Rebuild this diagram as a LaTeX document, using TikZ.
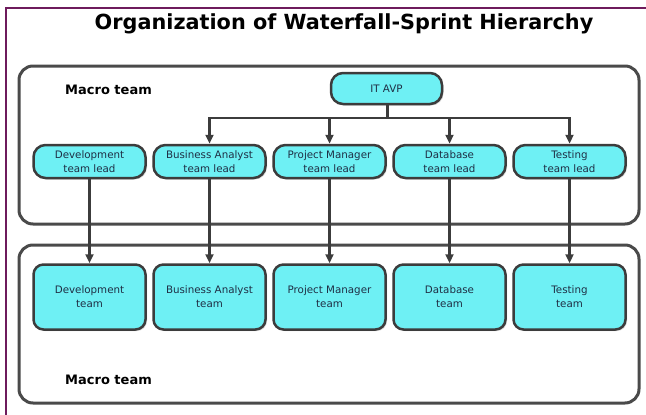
\documentclass[tikz,border=0pt]{standalone}
\usepackage{fontspec}
\setmainfont{DejaVu Sans}
\usepackage{xcolor}
\usepackage{tikz}
\usetikzlibrary{arrows.meta}
\usetikzlibrary{shapes,shadows,positioning}
\definecolor{nodeCyan}{HTML}{6EF0F4}
\definecolor{lineGray}{HTML}{3C3C3C}
\definecolor{boxGray}{HTML}{4A4A4A}
\definecolor{textNavy}{HTML}{1F2F45}
\definecolor{framePurple}{HTML}{6E1B5C}
\tikzset{org-line/.style={line width=2.5pt, draw=lineGray}}
\tikzset{>={Triangle[length=9pt, width=8pt]}}
\tikzset{org-node/.style={
        draw=lineGray,
        fill=nodeCyan,
        line width=2.5pt,
        inner sep=0,
        align=center,
        text=textNavy,
        font=\fontsize{10.3}{13.8}\selectfont,
        drop shadow={shadow xshift=1.5pt, shadow yshift=-1.5pt, opacity=0.3}
    }
}
\tikzset{lead-node/.style={org-node, minimum width=112pt, minimum height=33pt, rounded corners=12pt}}
\tikzset{team-node/.style={org-node, minimum width=112pt, minimum height=65pt, rounded corners=10pt}}
\tikzset{macro-box/.style={draw=boxGray, line width=3pt, rounded corners=14pt}}
\tikzset{macro-label/.style={anchor=west, inner sep=0, font=\fontsize{13}{15}\selectfont\bfseries}}
\newcommand{\teampair}[3] {
    \node[lead-node, #2] (lead#1) {#3\\team lead};
    \node[team-node, below=84pt of lead#1] (team#1) {#3\\team};

    \draw[->, org-line] (lead#1) -- (team#1);
}

\begin{document}
\begin{tikzpicture}[x=1pt, y=-1pt]
            \useasboundingbox (0,0) rectangle (646,415);
            \draw[framePurple, line width=2.5pt] (6,416) -- (6,8) -- (647,8);

            \node[anchor=base, font=\fontsize{20.8}{24}\selectfont\bfseries] (title) at (344,30) {Organization of Waterfall-Sprint Hierarchy};

            \draw[macro-box] (19,66) rectangle (639,224);
            \draw[macro-box] (19,245) rectangle (639,403);
            \node[macro-label] (macrotop) at (65,90) {Macro team};
            \node[macro-label] (macrobottom) at (65,380) {Macro team};

            \node[lead-node, minimum width=111pt, minimum height=31pt] (avp) at (386.5,88.5) {IT AVP};

            \teampair{1}{at={(89.5,161.5)}}{Development}
            \teampair{2}{right=5.5pt of lead1}{Business Analyst}
            \teampair{3}{right=5.5pt of lead2}{Project Manager}
            \teampair{4}{right=5.5pt of lead3}{Database}
            \teampair{5}{right=5.5pt of lead4}{Testing}

            \coordinate (bus) at (387.5,118);
            \draw[org-line] (avp.south -| bus) -- (bus);
            \draw[->, org-line] (bus) -| (lead2.north);
            \draw[->, org-line] (bus) -| (lead3.north);
            \draw[->, org-line] (bus) -| (lead4.north);
            \draw[->, org-line] (bus) -| (lead5.north);
        \end{tikzpicture}
\end{document}
